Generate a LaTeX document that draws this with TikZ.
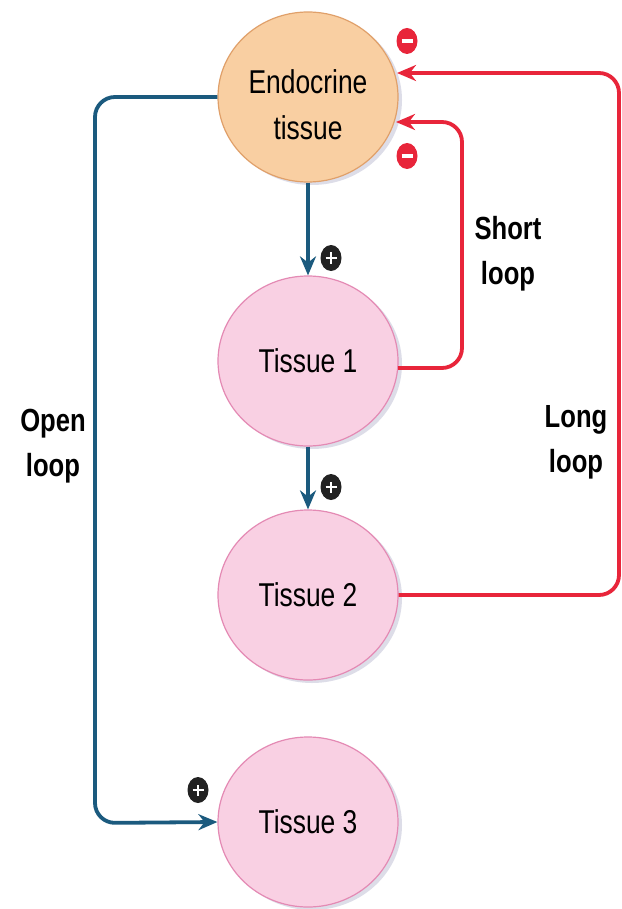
\documentclass[tikz,border=0pt]{standalone}
\usepackage{fontspec}
\setmainfont{Liberation Sans}
\usetikzlibrary{arrows.meta,shadows,shapes.geometric}
\definecolor{bluearrow}{HTML}{1B5A7E}
\definecolor{redarrow}{HTML}{E8253A}
\definecolor{endofill}{HTML}{F9CFA2}
\definecolor{endoedge}{HTML}{E0A06A}
\definecolor{tisfill}{HTML}{F9D0E3}
\definecolor{tisedge}{HTML}{E48AB4}
\definecolor{signdark}{HTML}{222222}
\tikzset{
  x=1pt, y=-1pt,
  organ/.style={ellipse, minimum width=180pt, minimum height=170pt, inner sep=0pt,
    line width=1.2pt, align=center, font=\fontsize{33}{37}\selectfont,
    drop shadow={shadow xshift=4pt, shadow yshift=-3pt, fill=blue!20!gray, opacity=0.22}},
  endo/.style={organ, fill=endofill, draw=endoedge},
  tis/.style={organ, fill=tisfill, draw=tisedge},
  stim/.style={draw=bluearrow, line width=3.8pt, rounded corners=20pt,
    -{Stealth[length=19pt,width=16pt]}},
  inhib/.style={draw=redarrow, line width=3.8pt, rounded corners=20pt,
    -{Stealth[length=19pt,width=16pt]}},
  plussign/.style={ellipse, fill=signdark, minimum width=21pt, minimum height=26pt, inner sep=0pt},
  minussign/.style={ellipse, fill=redarrow, minimum width=21pt, minimum height=26pt, inner sep=0pt},
  looplabel/.style={align=center, font=\bfseries\fontsize{32}{45}\selectfont}
}
\newcommand{\narrow}[1]{\scalebox{0.8}[1]{#1}}
\newcommand{\plusmark}{\tikz[x=1pt,y=1pt]{\draw[white,line width=2.6pt](-5.5,0)--(5.5,0)(0,-5.5)--(0,5.5);}}
\newcommand{\minusmark}{\tikz[x=1pt,y=1pt]{\draw[white,line width=3.2pt](-5.5,0)--(5.5,0);}}
\begin{document}
\begin{tikzpicture}
\useasboundingbox (0,0) rectangle (621,909);
\fill[white] (0,0) rectangle (621,909);

% glands and target tissues
\node[endo] (endo) at (308,97) {};
\node (endotext) at (308,105) [align=center, font=\fontsize{33}{46}\selectfont]
  {\narrow{Endocrine}\\\narrow{tissue}};
\node[tis] (t1) at (308,361) {\narrow{Tissue 1}};
\node[tis] (t2) at (308,595) {\narrow{Tissue 2}};
\node[tis] (t3) at (308,822) {\narrow{Tissue 3}};

% feed-forward (stimulatory) paths
\draw[stim] (endo.south) -- (t1.north);
\draw[stim] (t1.south) -- (t2.north);
\coordinate (ol1) at (95,97);
\coordinate (ol2) at (95,823);
\draw[stim] (endo.west) -- (ol1) -- (ol2) -- (t3.west);

% feedback (inhibitory) paths
\coordinate (sl0) at (398,368);
\coordinate (sl1) at (462,368);
\coordinate (sl2) at (462,122);
\coordinate (sl3) at (396,122);
\draw[inhib] (sl0) -- (sl1) -- (sl2) -- (sl3);
\coordinate (ll1) at (619,595);
\coordinate (ll2) at (619,73);
\coordinate (ll3) at (397,73);
\draw[inhib] (t2.east) -- (ll1) -- (ll2) -- (ll3);

% signs
\node[plussign] (p1) at (331,258) {\plusmark};
\node[plussign] (p2) at (331,487) {\plusmark};
\node[plussign] (p3) at (198,790) {\plusmark};
\node[minussign] (m1) at (407,41) {\minusmark};
\node[minussign] (m2) at (407,156) {\minusmark};

% loop labels
\node[looplabel] (lopen) at (53,446) {\narrow{Open}\\\narrow{loop}};
\node[looplabel] (lshort) at (508,254) {\narrow{Short}\\\narrow{loop}};
\node[looplabel] (llong) at (576,442) {\narrow{Long}\\\narrow{loop}};
\end{tikzpicture}
\end{document}
